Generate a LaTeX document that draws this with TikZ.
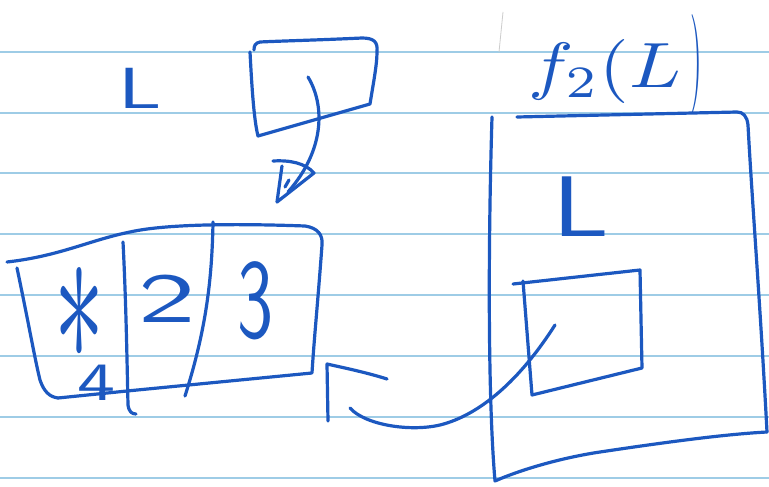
\documentclass[tikz,border=0pt]{standalone}
\definecolor{ink}{RGB}{28,88,192}
\definecolor{ruling}{RGB}{158,204,230}
\tikzset{
  pen/.style={draw=ink, line width=3.2pt, line cap=round, line join=round},
  ruleline/.style={draw=ruling, line width=1.6pt},
  hand/.style={text=ink, inner sep=0pt, font=\sffamily},
  mathtxt/.style={text=ink, inner sep=0pt}
}
\begin{document}
\begin{tikzpicture}[x=1pt,y=-1pt]
\useasboundingbox[fill=white] (0,0) rectangle (769,487);
% ruled paper
\foreach \yy in {52,113,173,234,295,356,417,478}
  \draw[ruleline] (0,\yy) -- (769,\yy);
\draw[gray!40, line width=0.8pt] (503,12) -- (499,52);

% top-left L
\node[hand, xscale=8, yscale=5.8] (Ltop) at (140,88) {L};

% top hook box
\coordinate (hb1) at (250,52);
\coordinate (hb2) at (258,136);
\coordinate (hb3) at (370,104);
\coordinate (hb4) at (377,52);
\draw[pen] (hb1) .. controls (252,90) and (254,120) .. (hb2)
  -- (hb3) .. controls (373,85) and (377,65) .. (hb4)
  .. controls (378,42) and (374,38) .. (362,38)
  .. controls (320,40) and (280,41) .. (260,42)
  .. controls (255,43) and (254,46) .. (254,50);
% curved arrow with open head
\coordinate (ca1) at (308,77);
\coordinate (ca2) at (288,192);
\draw[pen] (ca1) .. controls (325,105) and (325,150) .. (ca2);
\coordinate (ah1) at (273,161);
\coordinate (ah2) at (314,173);
\coordinate (ah3) at (277,202);
\draw[pen] (ah1) .. controls (290,160) and (305,163) .. (ah2) -- (ah3) -- (282,166);
\draw[pen] (285,187) -- (289,180);

% bottom-left box
\coordinate (bb1) at (7,262);
\coordinate (bb2) at (322,245);
\coordinate (bb3) at (312,373);
\coordinate (bb4) at (58,398);
\draw[pen] (bb1) .. controls (60,256) and (90,240) .. (130,232)
  .. controls (170,223) and (250,224) .. (305,226)
  .. controls (318,228) and (323,235) .. (bb2)
  .. controls (318,300) and (314,340) .. (bb3)
  -- (127,391) -- (bb4);
\draw[pen] (17,268) .. controls (28,320) and (35,360) .. (40,380)
  .. controls (44,392) and (50,397) .. (bb4);
% dividers
\draw[pen] (123,242) .. controls (126,300) and (127,360) .. (128,405)
  .. controls (129,412) and (132,414) .. (136,414);
\draw[pen] (213,222) .. controls (212,280) and (206,330) .. (185,396);
% cell texts
\node[mathtxt, xscale=10, yscale=20] (star) at (79,314) {$\ast$};
\node[hand, xscale=7.6, yscale=5.4] (four) at (96,383) {4};
\node[hand, xscale=11.5, yscale=7] (two) at (167,299) {2};
\node[hand, xscale=7.2, yscale=11.2] (three) at (255,301) {3};

% bracket
\coordinate (br1) at (387,379);
\coordinate (br2) at (327,364);
\coordinate (br3) at (328,421);
\draw[pen] (br1) .. controls (365,372) and (340,367) .. (br2) -- (br3);

% connecting curve
\coordinate (cc1) at (350,408);
\coordinate (cc2) at (555,325);
\draw[pen] (cc1) .. controls (365,425) and (410,432) .. (440,425)
  .. controls (480,415) and (520,380) .. (cc2);

% right big box
\draw[pen] (492,117) .. controls (488,250) and (488,400) .. (495,481)
  .. controls (520,470) and (560,458) .. (600,452)
  .. controls (680,440) and (730,434) .. (767,432);
\draw[pen] (767,432) .. controls (760,300) and (752,200) .. (748,125)
  .. controls (747,116) and (743,112) .. (737,112) -- (517,117);
% title
\node[mathtxt, anchor=base west, xscale=7.6, yscale=6.4] (f2) at (527,88) {$f_2(L$};
\node[mathtxt, anchor=base, xscale=3, yscale=10] (f2paren) at (696,90) {)};

% inner L and small square
\node[hand, xscale=10.5, yscale=8.6] (Linner) at (581,207) {L};
\draw[pen] (513,284) -- (640,270) -- (642,368) -- (532,395) -- (523,281);
\end{tikzpicture}
\end{document}
